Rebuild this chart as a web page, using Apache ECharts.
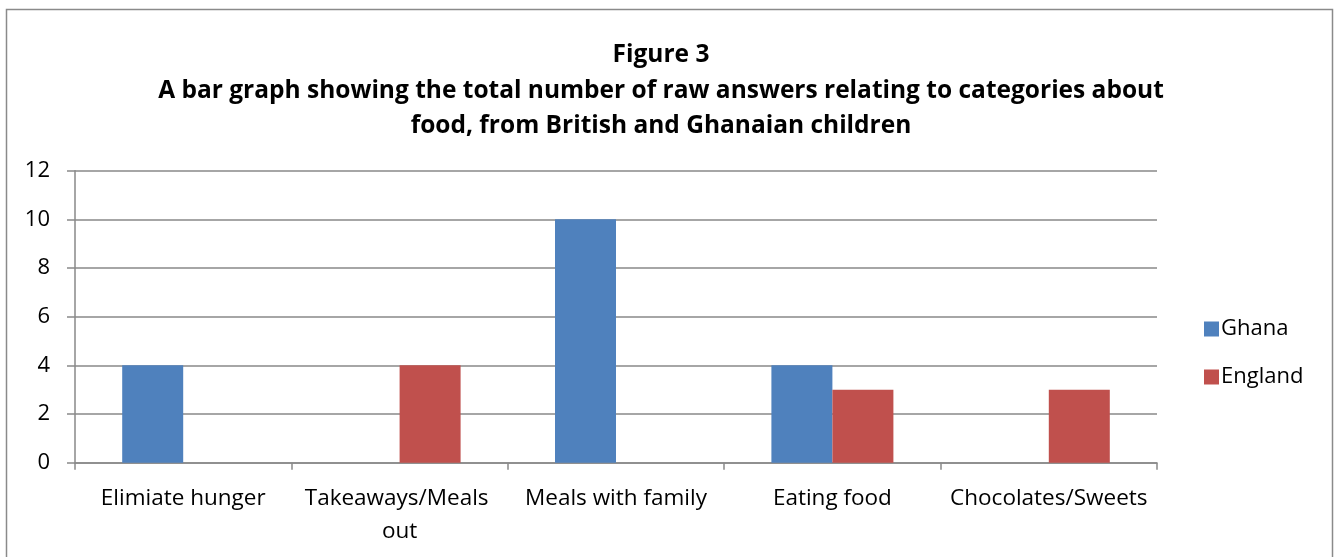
<!DOCTYPE html>
<html>
<head>
<meta charset="utf-8">
<script src="https://cdn.jsdelivr.net/npm/echarts@6/dist/echarts.min.js"></script>
<style>
  html, body { margin: 0; padding: 0; background: #ffffff; }
  #chart { width: 1337px; height: 557px; }
</style>
</head>
<body>
<div id="chart"></div>
<script>
// Food-related answer categories and counts per country
const categories = ['Elimiate hunger', 'Takeaways/Meals out', 'Meals with family', 'Eating food', 'Chocolates/Sweets'];
const ghana = [4, 0, 10, 4, 0];
const england = [0, 4, 0, 3, 3];
const titleLines = [
  'Figure 3',
  'A bar graph showing the total number of raw answers relating to categories about',
  'food, from British and Ghanaian children'
];

const FONT = '"Open Sans", Lato, sans-serif';
const GRID_COLOR = '#898989';

const chart = echarts.init(document.getElementById('chart'), null, { renderer: 'canvas' });

chart.setOption({
  animation: false,
  backgroundColor: '#ffffff',
  textStyle: { fontFamily: FONT },
  graphic: [
    {
      type: 'rect',
      shape: { x: 6.5, y: 9.5, width: 1326, height: 600 },
      style: { fill: null, stroke: '#8a8a8a', lineWidth: 1.5 },
      silent: true
    },
    {
      type: 'text',
      x: 661,
      y: 37.5,
      style: {
        text: titleLines.join('\n'),
        fontFamily: FONT,
        fontWeight: 'bold',
        fontSize: 24.5,
        lineHeight: 35.5,
        fill: '#000000',
        align: 'center',
        textAlign: 'center'
      }
    }
  ],
  legend: {
    orient: 'vertical',
    left: 1199,
    top: 313,
    itemWidth: 15,
    itemHeight: 15,
    itemGap: 26,
    icon: 'rect',
    textStyle: { fontFamily: FONT, fontSize: 22, lineHeight: 22, color: '#000000', padding: [0, 0, 0, -3] },
    data: ['Ghana', 'England']
  },
  grid: {
    left: 75,
    right: 180,
    top: 170.7,
    bottom: 94.3,
    containLabel: false
  },
  xAxis: {
    type: 'category',
    data: categories,
    boundaryGap: true,
    axisLine: { show: true, lineStyle: { color: GRID_COLOR, width: 1.5 } },
    axisTick: { show: true, alignWithLabel: false, length: 7, lineStyle: { color: GRID_COLOR, width: 1.5 } },
    axisLabel: {
      interval: 0,
      margin: 19,
      fontFamily: FONT,
      fontSize: 22.5,
      color: '#000000',
      lineHeight: 33,
      width: 214,
      overflow: 'break'
    },
    splitLine: { show: false }
  },
  yAxis: {
    type: 'value',
    min: 0,
    max: 12,
    interval: 2,
    axisLine: { show: true, lineStyle: { color: GRID_COLOR, width: 1.5 } },
    axisTick: { show: true, length: 8, lineStyle: { color: GRID_COLOR, width: 1.5 } },
    axisLabel: {
      margin: 25,
      fontFamily: FONT,
      fontSize: 22,
      color: '#000000'
    },
    splitLine: { show: true, lineStyle: { color: GRID_COLOR, width: 1.5 } }
  },
  series: [
    {
      name: 'Ghana',
      type: 'bar',
      data: ghana,
      barWidth: 61,
      barGap: '0%',
      itemStyle: { color: '#4F81BD' }
    },
    {
      name: 'England',
      type: 'bar',
      data: england,
      barWidth: 61,
      barGap: '0%',
      itemStyle: { color: '#C0504D' }
    }
  ]
});
</script>
</body>
</html>
